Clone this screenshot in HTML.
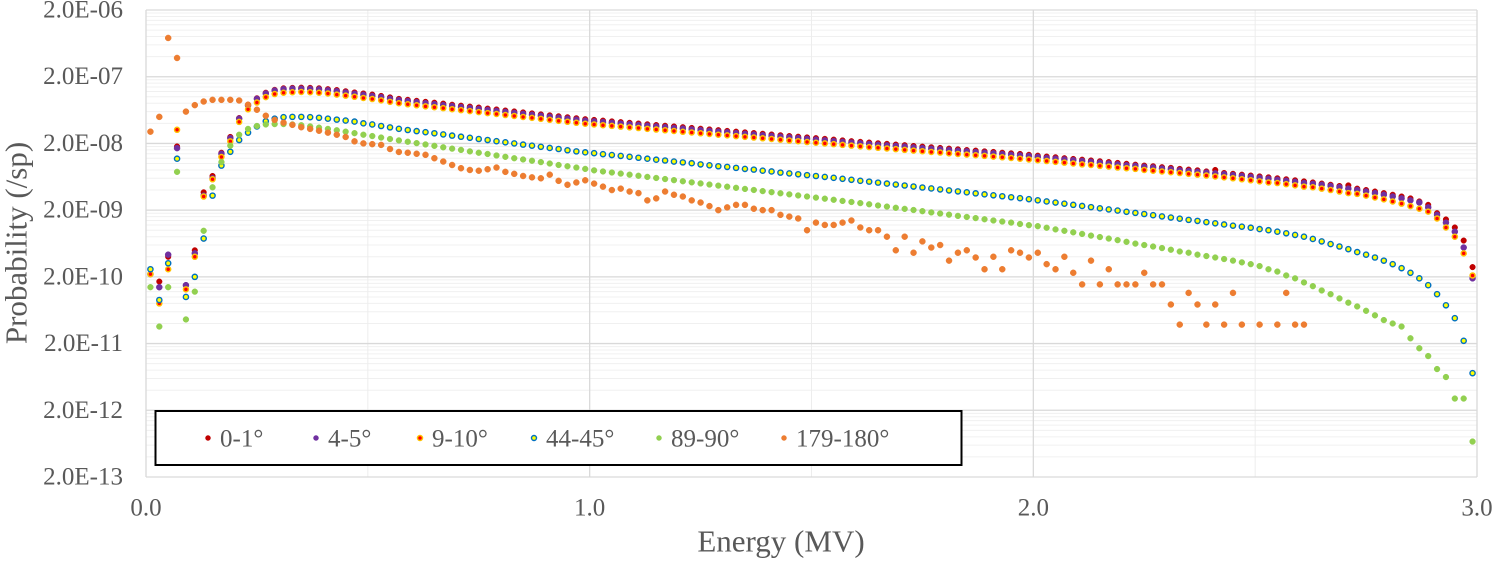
<!DOCTYPE html>
<html><head><meta charset="utf-8"><style>
html,body{margin:0;padding:0;background:#fff;}
svg{display:block;font-family:"Liberation Serif","Times New Roman",serif;}
</style></head><body>
<svg id="chart" width="1493" height="561" viewBox="0 0 1493 561">
  <rect x="0" y="0" width="1493" height="561" fill="#fff"/>
  <g id="grid"></g>
  <g id="yticks"></g>
  <g id="xticks"></g>
  <g id="series"></g>
  <text x="16" y="243" transform="rotate(-90 16 243)" text-anchor="middle" dominant-baseline="central" font-size="31" fill="#595959">Probability (/sp)</text>
  <text x="781" y="541" text-anchor="middle" dominant-baseline="central" font-size="31" fill="#595959">Energy (MV)</text>
  <g id="legend">
    <rect x="155.5" y="411" width="806" height="54" fill="#fff" stroke="#000" stroke-width="2"/>
  </g>
</svg>
<script>
// Data (probability values in units of 1e-10 /sp), energy bins 0.01, 0.03, ... 2.99 MV
const UNIT = 1e-10;
const energyStart = 0.01;
const energyStep = 0.02;
const yTickLabels = ["2.0E-06","2.0E-07","2.0E-08","2.0E-09","2.0E-10","2.0E-11","2.0E-12","2.0E-13"];
const yTickValues = [2e-6,2e-7,2e-8,2e-9,2e-10,2e-11,2e-12,2e-13];
const xTickLabels = ["0.0","1.0","2.0","3.0"];
const xTickValues = [0,1,2,3];
const seriesNames = ["0-1°","4-5°","9-10°","44-45°","89-90°","179-180°"];
const s0_1 = [2.6,1.7,4,180,1.5,5,37,65,145,250,480,760,950,1150,1270,1340,1360,1370,1360,1340,1300,1260,1210,1160,1120,1080,1030,980,930,
900,870,840,815,790,760,735,712,690,665,645,622,603,583,564,545,527,510,493,477,461,
450,439,428,417,407,397,387,377,368,359,350,341,332,324,316,308,300,293,286,279,272,265,258,252,246,240,234,228,222,216,
211,206,201,197,192,188,183,179,175,171,167,163,159,156,152,149,145,142,139,135,
131,127,124,120,117,114,111,108,105,102,99,96,93,91,88,86,83,81,79,76,80,72,70,68,66,64,62,60,58,56,54,52,50,48,46,47,42,40,38,36,34,32,30,27,24,18,14.5,11,7,2.8];
const s4_5 = [2.2,1.4,4.3,170,1.5,4.5,33,60,140,240,470,740,930,1120,1240,1300,1320,1320,1310,1290,1250,1210,1160,1110,1070,1030,985,935,890,
860,830,800,775,750,725,700,678,656,633,613,592,573,555,537,519,502,486,470,454,439,
428,418,407,397,387,378,368,359,350,341,333,324,316,308,300,293,285,278,272,265,259,252,246,240,234,228,222,217,211,206,
201,196,191,187,183,179,174,170,166,163,159,155,152,148,145,142,138,135,132,129,
125,121,118,115,112,109,106,103,100,97,94,92,89,87,84,82,79,77,75,73,71,69,67,65,63,61,59,57,55,53,51,49.5,48,46,44,42,40,38,36,34,32,30,28,26,22,17,13,9.5,5.5,1.9];
const s9_10 = [2.2,0.8,2.6,320,1.3,4,32,58,125,215,420,650,820,990,1100,1150,1170,1180,1170,1150,1120,1080,1040,1000,960,925,885,840,800,
772,746,720,697,675,652,630,610,590,570,552,533,516,499,483,467,451,436,422,408,395,
385,375,366,357,348,340,331,323,315,307,299,292,284,277,270,264,257,251,245,239,233,227,221,216,210,205,200,195,190,185,
181,176,172,168,164,160,156,153,149,146,142,139,136,133,130,127,124,121,118,115,
112,109,106,103,100,97,95,92,90,87,85,83,80,78,76,74,72,70,68,66,64,62,60,58,56,54,52,51,49,47,45,44,42,40,38,36,35,33,31,29,27,25,23,21,19,15,11,8,4.5,2.1];
const s44_45 = [2.6,0.9,3.2,118,1.0,2.0,7.5,33,93,150,225,290,360,430,470,495,500,500,495,485,470,455,440,425,400,385,365,348,331,
318,306,295,284,273,262,252,243,233,225,216,208,200,192,185,178,171,165,158,152,147,
143,138,134,130,126,122,118,114,111,107,104,101,97,94,91,89,86,83,81,78,76,73,71,69,67,65,63,61,59,57,
55,53.5,51.7,50,48.4,46.8,45.2,43.7,42.3,40.9,39.5,38.2,37,35.7,34.5,33.4,32.3,31.2,30.2,29.2,
28.1,27,26,25,24,23.1,22.2,21.3,20.5,19.7,18.9,18.2,17.5,16.8,16.1,15.5,14.9,14.3,13.8,13.2,12.7,12.2,11.7,11.3,10.9,10.4,10,9.5,9,8.5,8,7.4,6.8,6.2,5.7,5.2,4.7,4.3,3.9,3.5,3.1,2.7,2.3,1.9,1.5,1.1,0.75,0.48,0.22,0.072];
const s89_90 = [1.4,0.36,1.4,75,0.46,1.2,9.8,44,105,185,270,330,365,385,390,390,385,375,360,345,330,315,300,285,270,258,245,233,222,
212,202,193,184,175,167,160,152,145,139,132,126,120,115,110,105,100,95,91,87,83,
79,76,73.3,70.6,68,65.5,63,60.7,58.5,56.3,54.2,52.2,50.3,48.4,46.6,44.9,43.2,41.6,40.1,38.6,37.2,35.8,34.5,33.2,32,30.8,29.7,28.6,27.5,26.5,
25.5,24.5,23.5,22.6,21.7,20.9,20.1,19.3,18.5,17.8,17.1,16.4,15.8,15.2,14.6,14,13.5,13,12.4,11.9,
11.5,10.9,10.3,9.8,9.3,8.8,8.3,7.9,7.5,7.1,6.7,6.3,6.0,5.7,5.4,5.1,4.8,4.6,4.3,4.1,3.9,3.7,3.5,3.3,3.1,2.9,2.6,2.4,2.1,1.9,1.65,1.45,1.25,1.1,0.95,0.82,0.72,0.62,0.53,0.45,0.4,0.36,0.24,0.17,0.13,0.083,0.063,0.03,0.03,0.0068];
const s179_180 = [300,500,7620,3820,600,750,850,900,900,900,880,760,640,520,450,410,380,350,330,310,290,270,250,215,200,195,190,165,149,
145,140,135,120,107,95,85,80,78,82,87,75,70,65,62,60,68,55,48,52,56,
50,45,40,42,38,36,28,30,38,34,32,28,26,23,20,22,24,24,21,20,20,17,16,15,10,13,12,12,13,14,
11,10,10,8,5,8,4.6,6.8,5.5,6,3.5,4.6,5,3.9,2.6,4,2.6,5,4.6,3.9,
4.6,3.1,2.6,4,2.3,1.54,3.5,1.54,2.6,1.54,1.54,1.54,2.3,1.54,1.54,0.77,0.385,1.15,0.77,0.385,0.77,0.385,1.15,0.385,null,0.385,null,0.385,1.15,0.385,0.385,
null,null,null,null,null,null,null,null,null,null,null,null,null,null,null,null,null,null,null];

const NS = "http://www.w3.org/2000/svg";
const L = 146, R = 1477, T = 10, B = 477;
const yMin = Math.log10(2e-13), yMax = Math.log10(2e-6);
function xScale(e){ return L + (e - 0) / (3 - 0) * (R - L); }
function yScale(v){ return B - (Math.log10(v) - yMin) / (yMax - yMin) * (B - T); }
function mk(tag, attrs, parent){ const el = document.createElementNS(NS, tag); for (const k in attrs) el.setAttribute(k, attrs[k]); parent.appendChild(el); return el; }

const grid = document.getElementById("grid");
for (let d = 0; d < 7; d++) {
  for (let k = 2; k <= 9; k++) {
    const y = yScale(yTickValues[d + 1] * k);
    const ln = mk("line", {x1: L, x2: R, y1: y, y2: y, stroke: "#f0f0f0", "stroke-width": 1}, grid);
    
    
  }
}
[0.5, 1.5, 2.5].forEach(function(e){
  const x = xScale(e);
  const ln = mk("line", {x1: x, x2: x, y1: T, y2: B, stroke: "#ededed", "stroke-width": 1}, grid);
  
  
});
const yt = document.getElementById("yticks");
yTickValues.forEach(function(v, i){
  const y = yScale(v);
  const ln = mk("line", {x1: L, x2: R, y1: y, y2: y, stroke: "#d9d9d9", "stroke-width": 1.3}, grid);
  
  
  const t = mk("text", {x: 123, y: y, "text-anchor": "end", "dominant-baseline": "central", "font-size": 25, fill: "#595959"}, yt);
  t.textContent = yTickLabels[i];
  
  
});
const xt = document.getElementById("xticks");
xTickValues.forEach(function(e, i){
  const x = xScale(e);
  const ln = mk("line", {x1: x, x2: x, y1: T, y2: B, stroke: "#d9d9d9", "stroke-width": 1.3}, grid);
  
  
  const t = mk("text", {x: x, y: 508, "text-anchor": "middle", "dominant-baseline": "central", "font-size": 25, fill: "#595959"}, xt);
  t.textContent = xTickLabels[i];
  
  
});

const styles = [
  {fill: "#C00000", stroke: "#C00000", sw: 0.5, r: 2.8},
  {fill: "#7030A0", stroke: "#7030A0", sw: 0.5, r: 3.0},
  {fill: "#FF0000", stroke: "#FFC000", sw: 1.5, r: 2.5},
  {fill: "#FFFF00", stroke: "#0070C0", sw: 1.4, r: 2.6},
  {fill: "#92D050", stroke: "#92D050", sw: 0.5, r: 2.9},
  {fill: "#ED7D31", stroke: "#ED7D31", sw: 0.5, r: 3.0}
];
const allSeries = [s0_1, s4_5, s9_10, s44_45, s89_90, s179_180];
const sg = document.getElementById("series");
allSeries.forEach(function(arr, si){
  const g = mk("g", {}, sg);
  
  
  const st = styles[si];
  arr.forEach(function(v, i){
    if (v === null || v <= 0) return;
    const e = energyStart + energyStep * i;
    const c = mk("circle", {cx: xScale(e), cy: yScale(v * UNIT), r: st.r, fill: st.fill, stroke: st.stroke, "stroke-width": st.sw}, g);
    
    
  });
});

const lg = document.getElementById("legend");
const legX = [208, 316, 420, 534, 659, 784];
seriesNames.forEach(function(n, i){
  const st = styles[i];
  const g = mk("g", {}, lg);
  
  
  mk("circle", {cx: legX[i], cy: 438, r: 2.5, fill: st.fill, stroke: st.stroke, "stroke-width": st.sw}, g);
  const t = mk("text", {x: legX[i] + 12, y: 439, "dominant-baseline": "central", "font-size": 25, fill: "#595959"}, g);
  t.textContent = n;
  
  
});
</script>
</body></html>
